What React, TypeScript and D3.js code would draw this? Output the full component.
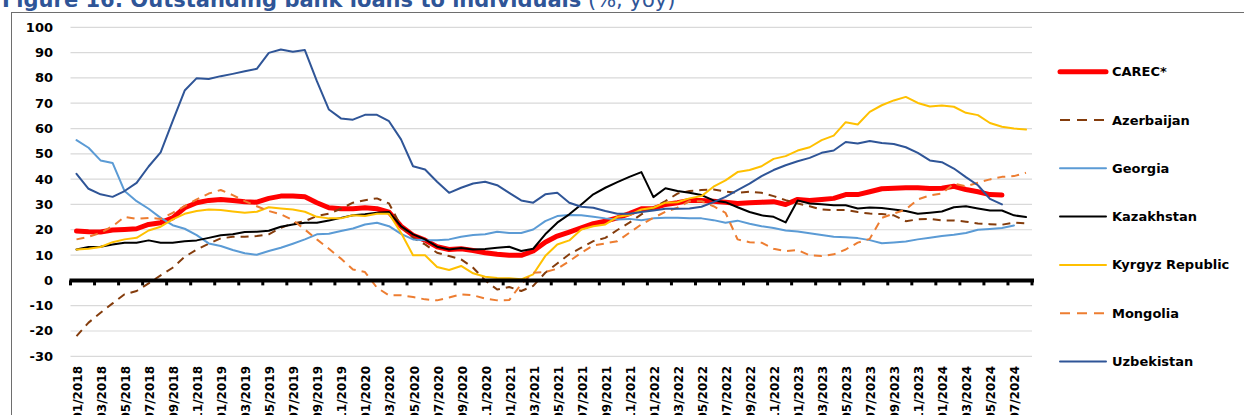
import React from "react";
import * as d3 from "d3";

// monthly categories 01/2018 .. 08/2024
const months: string[] = d3
  .timeMonths(new Date(2018, 0, 1), new Date(2024, 8, 1))
  .map((d) => d3.timeFormat("%m/%Y")(d));

const yTicks = [-30, -20, -10, 0, 10, 20, 30, 40, 50, 60, 70, 80, 90, 100];

const carec = [
  19.5, 19.2, 19.1, 19.9, 20.1, 20.4, 22.1, 22.8, 24.7, 28.7, 30.7, 31.6, 32, 31.6, 31.1, 30.9, 32.4, 33.3, 33.3, 33, 30.7, 28.7, 28.3, 28.3, 28.7, 28.3, 27,
  21.4, 17.8, 15.9, 13.3, 12.2, 12.5, 11.8, 10.9, 10.3, 9.9, 9.9, 11.6, 15.1, 17.5, 19.1, 20.8, 22.4, 23.4, 24.7, 26.4, 28.3, 28.4, 30, 30.7, 31.6, 31.6, 31.3,
  30.9, 30.4, 30.7, 30.9, 31.1, 30, 32, 31.6, 32, 32.4, 33.9, 33.9, 35, 36.2, 36.4, 36.6, 36.6, 36.3, 36.4, 37.2, 35.9, 35, 33.9, 33.7,
];
const azerbaijan = [
  -22, -16.7, -12.8, -9.1, -5.5, -4.2, -1.2, 2, 5, 9.3, 12.2, 14.5, 16.6, 17.2, 17.2, 17.5, 18.2, 20.8, 22.5, 23.4, 25.4, 26.4, 28.3, 30.7, 31.7, 32.4, 30.4,
  21.4, 16.8, 14.2, 10.9, 9.6, 8.3, 5, 0, -3.6, -2.6, -4.2, -2.2, 3, 6.7, 10.3, 12.9, 15.5, 16.8, 19.9, 22.8, 26.1, 28.7, 31.3, 34.3, 35.3, 35.7, 35.9,
  35.1, 34.6, 35, 34.6, 33.3, 31.7, 30.4, 29.3, 28, 27.8, 27.8, 27, 26.4, 26.2, 25.7, 23.4, 24.1, 24.3, 23.7, 23.7, 23.2, 22.5, 22.2, 22, 22.8, 22.5,
];
const georgia = [
  55.4, 52.4, 47.4, 46.4, 35.3, 31.3, 28.3, 24.7, 21.8, 20.4, 17.9, 14.6, 13.6, 12, 10.7, 10.1, 11.6, 12.9, 14.5, 16.2, 18.2, 18.4, 19.5, 20.5, 22.1, 22.8, 21.4,
  18.4, 16.2, 15.9, 15.9, 16.2, 17.2, 17.9, 18.2, 19.2, 18.7, 18.7, 20.1, 23.4, 25.4, 25.8, 25.7, 25.1, 24.5, 24.1, 24.3, 23.8, 24.5, 24.7, 24.7, 24.5, 24.5, 23.8,
  22.8, 23.6, 22.4, 21.4, 20.7, 19.7, 19.3, 18.6, 17.9, 17.2, 17, 16.7, 15.9, 14.7, 15, 15.4, 16.2, 16.8, 17.5, 18, 18.7, 20, 20.3, 20.7, 21.7,
];
const kazakhstan = [
  12.2, 13.2, 13.3, 14.2, 14.9, 14.9, 15.8, 14.9, 14.9, 15.5, 15.8, 16.8, 17.8, 18.2, 19.1, 19.2, 19.6, 21.2, 22.1, 22.8, 22.8, 23.7, 24.7, 25.7, 26.1, 26.7, 27,
  21.4, 18.2, 16.2, 13.3, 12.2, 12.8, 12.2, 12.4, 12.9, 13.3, 11.6, 12.5, 18.2, 22.8, 26.1, 30, 34, 36.6, 38.8, 40.9, 42.8, 32.9, 36.4, 35.3, 34.6, 33.7, 31.6,
  30.9, 28.9, 27, 25.7, 25.1, 22.9, 31.6, 30.4, 30.1, 29.7, 29.7, 28.4, 28.8, 28.6, 28, 27.4, 26.3, 26.7, 27.2, 28.9, 29.3, 28.4, 27.6, 27.6, 25.7, 25,
];
const kyrgyz = [
  12.2, 12.5, 13.2, 15.1, 16.2, 16.8, 19.7, 21.2, 24.1, 26.3, 27.4, 28, 27.8, 27.2, 26.7, 27.1, 28.9, 28.4, 28, 27.1, 25.1, 24.5, 24.5, 25.7, 25.4, 26.3, 26.3,
  18.8, 9.9, 9.9, 5.3, 4.1, 5.7, 2.8, 1.4, 0.9, 0.8, 0.4, 2.4, 9.6, 14.2, 15.8, 20.1, 21.4, 22.1, 25.1, 25.8, 28, 28.7, 30.7, 30.9, 32.4, 33.3, 37,
  39.5, 42.8, 43.6, 45.1, 48, 49.1, 51.3, 52.6, 55.4, 57.2, 62.5, 61.6, 66.6, 69.2, 71.1, 72.5, 70.1, 68.7, 69.1, 68.6, 66.2, 65.3, 62.2, 60.7, 60, 59.6,
];
const mongolia = [
  16.2, 17.2, 18.8, 21.4, 25.1, 24.3, 24.7, 24.3, 26.7, 29.3, 32, 34.3, 35.7, 33.7, 31.3, 29.3, 27.4, 26.1, 23.8, 20.1, 16.2, 12.5, 8.6, 4.3, 3.3, -2.9, -5.9,
  -5.9, -6.6, -7.5, -7.9, -6.8, -5.5, -5.9, -7.2, -7.9, -7.8, -1.5, 3, 3.3, 4.6, 7.6, 10.9, 13.8, 14.6, 15.5, 18.8, 22.1, 24.7, 27.1, 28.7, 31.3, 31.3, 29.3,
  26.7, 16.2, 15.1, 14.9, 12.5, 11.6, 12, 9.9, 9.6, 10.3, 12.2, 14.9, 16.4, 24.7, 26.4, 28, 32, 33.6, 34.3, 38.2, 37.2, 38.6, 39.9, 40.9, 41.2, 42.5,
];
const uzbekistan = [
  42.1, 36.2, 34, 33, 35.3, 38.5, 45, 50.6, 62.9, 75, 79.9, 79.6, 80.7, 81.6, 82.6, 83.6, 89.9, 91.2, 90.3, 91, 78.7, 67.5, 64, 63.5, 65.4, 65.4, 62.9,
  55.7, 45.1, 43.8, 39, 34.6, 36.6, 38.3, 39, 37.6, 34.6, 31.6, 30.7, 34, 34.6, 30.7, 29.1, 28.7, 27.4, 26.3, 26.3, 27, 27.6, 28.3, 28.3, 28.4, 29.1, 30.9,
  33, 35.7, 38.2, 41.2, 43.6, 45.5, 47.1, 48.4, 50.4, 51.3, 54.7, 54.1, 55.1, 54.3, 53.9, 52.6, 50.4, 47.4, 46.7, 44.2, 40.8, 37.6, 32.2, 30,
];

const series = [
  { name: "CAREC*", values: carec, color: "#ff0000", width: 5, dash: "" },
  { name: "Azerbaijan", values: azerbaijan, color: "#843c0c", width: 2, dash: "8,6" },
  { name: "Georgia", values: georgia, color: "#5b9bd5", width: 2, dash: "" },
  { name: "Kazakhstan", values: kazakhstan, color: "#000000", width: 2, dash: "" },
  { name: "Kyrgyz Republic", values: kyrgyz, color: "#ffc000", width: 2, dash: "" },
  { name: "Mongolia", values: mongolia, color: "#ed7d31", width: 2, dash: "8,6" },
  { name: "Uzbekistan", values: uzbekistan, color: "#2f5597", width: 2, dash: "" },
];

const W = 1244;
const H = 415;
const left = 70.5;
const right = 1032;
const font = "'DejaVu Sans', sans-serif";

export default function App() {
  const x = d3.scalePoint<string>().domain(months).range([left, right]).padding(0.5);
  const y = d3.scaleLinear().domain([-30, 100]).range([356.3, 27.3]);
  const step = x.step();
  const zeroY = y(0);

  const line = d3
    .line<number>()
    .x((_, i) => x(months[i]) as number)
    .y((v) => y(v));

  const tickXs = d3.range(0, months.length + 1, 2).map((k) => left + k * step);

  return (
    <svg
      width={W}
      height={H}
      style={{ position: "absolute", left: 0, top: 0, background: "#fff" }}
      fontFamily={font}
    >
      <text x={2} y={6.5} fontSize={21} fontWeight="bold" fill="#2f5597">
        Figure 16: Outstanding bank loans to individuals
        <tspan fontWeight="normal"> (%, yoy)</tspan>
      </text>
      <rect x={11.5} y={12.5} width={1300} height={500} fill="none" stroke="#6e6e6e" strokeWidth={1} />

      {yTicks.map((t) => (
        <g key={t}>
          {t !== 0 && (
            <line x1={left} x2={right} y1={y(t)} y2={y(t)} stroke="#d9d9d9" strokeWidth={1.2} />
          )}
          <text
            x={53}
            y={y(t)}
            textAnchor="end"
            dominantBaseline="central"
            fontSize={13}
            fontWeight="bold"
            fill="#000"
          >
            {t}
          </text>
        </g>
      ))}

      {series.map((s) => (
        <path
          key={s.name}
          d={line(s.values) ?? ""}
          fill="none"
          stroke={s.color}
          strokeWidth={s.width}
          strokeDasharray={s.dash || undefined}
          strokeLinejoin="round"
          strokeLinecap={s.dash ? "butt" : "round"}
        />
      ))}

      <line x1={left - 1} x2={right + 2} y1={zeroY} y2={zeroY} stroke="#000" strokeWidth={4} />
      {tickXs.map((tx, k) => (
        <line key={k} x1={tx} x2={tx} y1={zeroY} y2={zeroY + 5} stroke="#000" strokeWidth={3} />
      ))}

      {months.map((m, i) =>
        i % 2 === 0 ? (
          <text
            key={m}
            transform={`translate(${(x(m) as number) + 5.5},366) rotate(-90)`}
            textAnchor="end"
            fontSize={12}
            fontWeight="bold"
            fill="#000"
          >
            {m}
          </text>
        ) : null
      )}

      {series.map((s, i) => {
        const ly = 71.7 + i * 48.3;
        return (
          <g key={s.name}>
            <line
              x1={1060}
              x2={1106}
              y1={ly}
              y2={ly}
              stroke={s.color}
              strokeWidth={s.width}
              strokeDasharray={s.dash ? "10,7" : undefined}
              strokeLinecap={s.dash ? "butt" : "round"}
            />
            <text
              x={1112}
              y={ly}
              dominantBaseline="central"
              fontSize={13}
              fontWeight="bold"
              fill="#000"
            >
              {s.name}
            </text>
          </g>
        );
      })}
    </svg>
  );
}
